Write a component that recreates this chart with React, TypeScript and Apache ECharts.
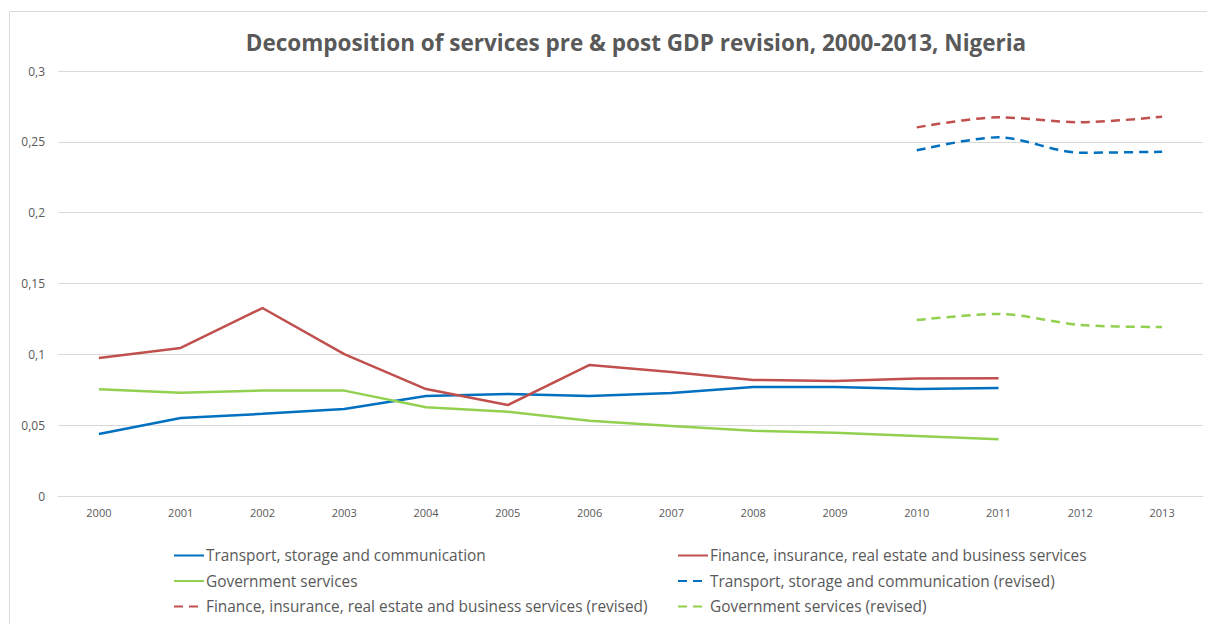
import React, { useEffect, useRef } from "react";
import * as echarts from "echarts";

const years = ["2000","2001","2002","2003","2004","2005","2006","2007","2008","2009","2010","2011","2012","2013"];
const transport = [0.0438, 0.055, 0.058, 0.0614, 0.0706, 0.072, 0.0706, 0.0727, 0.077, 0.077, 0.0755, 0.0762, null, null];
const finance = [0.0974, 0.1045, 0.1327, 0.1002, 0.0755, 0.0642, 0.0925, 0.0875, 0.0819, 0.0812, 0.0829, 0.0831, null, null];
const government = [0.0753, 0.0729, 0.0744, 0.0744, 0.0626, 0.0595, 0.0532, 0.0494, 0.0461, 0.0447, 0.0424, 0.040, null, null];
const transportRev = [null, null, null, null, null, null, null, null, null, null, 0.244, 0.2532, 0.2423, 0.243];
const financeRev = [null, null, null, null, null, null, null, null, null, null, 0.2602, 0.2673, 0.2638, 0.2677];
const governmentRev = [null, null, null, null, null, null, null, null, null, null, 0.1242, 0.1285, 0.1207, 0.1193];

const names = [
  "Transport, storage and communication",
  "Finance, insurance, real estate and business services",
  "Government services",
  "Transport, storage and communication (revised)",
  "Finance, insurance, real estate and business services (revised)",
  "Government services (revised)",
];
const title = "Decomposition of services pre & post GDP revision, 2000-2013, Nigeria";

const BLUE = "#0070C0";
const RED = "#C0504D";
const GREEN = "#92D050";
const TEXT = "#595959";
const FONT = "'Open Sans', 'Noto Sans', sans-serif";

export default function App() {
  const ref = useRef<HTMLDivElement>(null);
  useEffect(() => {
    document.body.style.margin = "0";
    const chart = echarts.init(ref.current!, null, { renderer: "svg" });
    const mk = (name: string, data: any[], color: string, dashed: boolean) => ({
      name,
      type: "line",
      data,
      symbol: "none",
      smooth: dashed ? 0.3 : false,
      connectNulls: false,
      itemStyle: { color },
      lineStyle: { color, width: 2.5, type: dashed ? [9, 6] : "solid" },
    });
    const legendCommon = {
      orient: "vertical",
      itemWidth: 30,
      itemHeight: 14,
      itemGap: 10.5,
      itemStyle: { opacity: 0 },
      textStyle: { color: TEXT, fontSize: 15.4, fontFamily: FONT, padding: [0, 0, 0, -3] },
      selectedMode: false,
    };
    chart.setOption({
      animation: false,
      backgroundColor: "#ffffff",
      title: {
        text: title,
        left: 631,
        textAlign: "center",
        top: 26,
        textStyle: { color: TEXT, fontSize: 22.5, fontWeight: "bold", fontFamily: FONT },
      },
      grid: { left: 58, right: 4, top: 71, bottom: 128 },
      xAxis: {
        type: "category",
        data: years,
        boundaryGap: true,
        axisLine: { show: true, lineStyle: { color: "#D9D9D9", width: 1 } },
        axisTick: { show: false },
        axisLabel: { color: TEXT, fontSize: 11, fontFamily: FONT, margin: 11 },
      },
      yAxis: {
        type: "value",
        min: 0,
        max: 0.3,
        interval: 0.05,
        axisLine: { show: false },
        axisTick: { show: false },
        splitLine: { lineStyle: { color: "#D9D9D9", width: 1 } },
        axisLabel: {
          color: TEXT,
          fontSize: 12,
          fontFamily: FONT,
          margin: 13,
          formatter: (v: number) => String(parseFloat(v.toFixed(2))).replace(".", ","),
        },
      },
      legend: [
        { ...legendCommon, left: 168, top: 543, data: [names[0], names[2], names[4]] },
        { ...legendCommon, left: 672, top: 543, data: [names[1], names[3], names[5]] },
      ],
      graphic: [
        {
          type: "rect",
          shape: { x: 9.5, y: 11.5, width: 1220, height: 640 },
          style: { fill: "none", stroke: "#D9D9D9", lineWidth: 1 },
          silent: true,
        },
      ],
      series: [
        mk(names[0], transport, BLUE, false),
        mk(names[1], finance, RED, false),
        mk(names[2], government, GREEN, false),
        mk(names[3], transportRev, BLUE, true),
        mk(names[4], financeRev, RED, true),
        mk(names[5], governmentRev, GREEN, true),
      ],
    });
    return () => chart.dispose();
  }, []);
  return <div ref={ref} style={{ width: 1207, height: 624 }} />;
}
